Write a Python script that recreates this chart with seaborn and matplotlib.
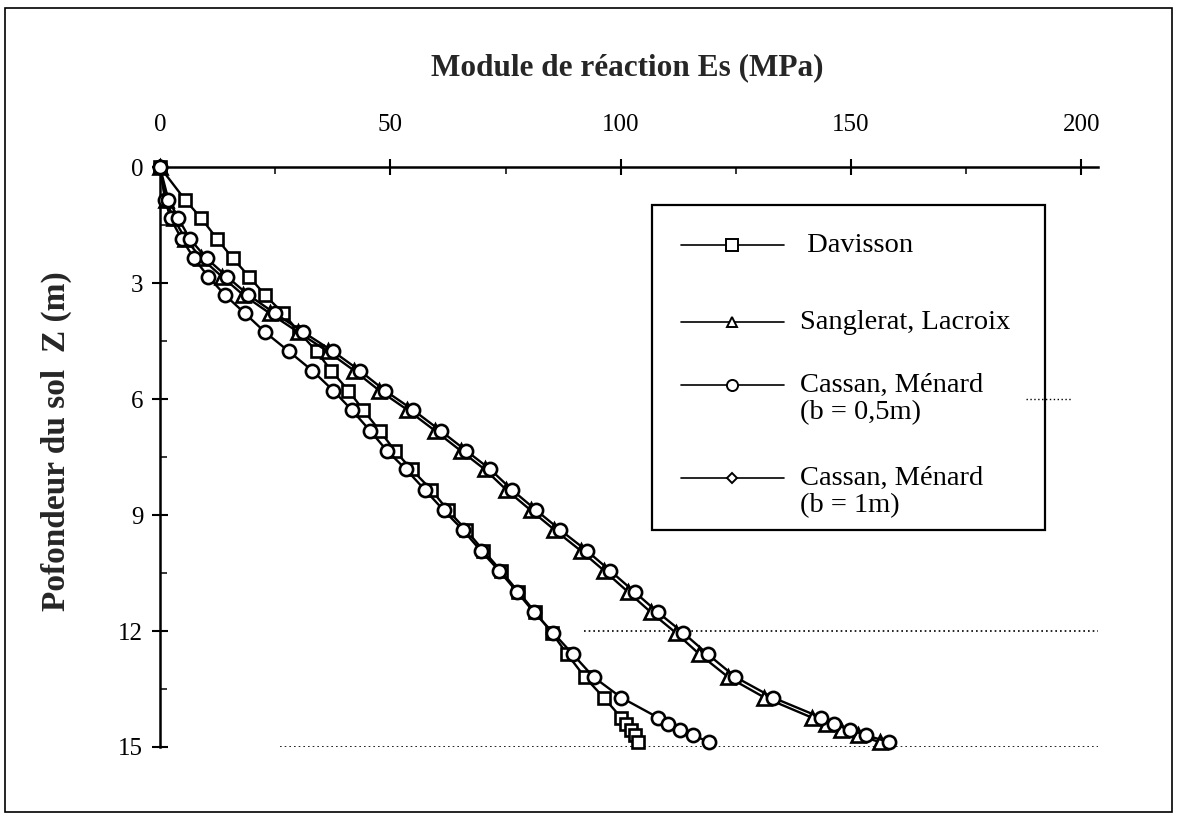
import matplotlib
matplotlib.use("Agg")
import matplotlib.pyplot as plt
from matplotlib.lines import Line2D
from matplotlib.patches import Rectangle
from matplotlib.ticker import MultipleLocator
import seaborn as sns

# Depth below ground (m), common to all methods
depth = [0, 0.84, 1.33, 1.86, 2.36, 2.84, 3.31, 3.78, 4.27, 4.77, 5.27, 5.78,
         6.28, 6.82, 7.34, 7.82, 8.35, 8.88, 9.38, 9.92, 10.44, 10.99, 11.52,
         12.04, 12.60, 13.19, 13.72, 14.24, 14.41, 14.55, 14.70, 14.87]

# Reaction modulus Es (MPa) for each method
es_davisson = [0, 5.4, 9.0, 12.4, 15.8, 19.4, 22.8, 26.7, 30.2, 34.0, 37.2, 40.9,
               44.1, 47.7, 51.0, 54.6, 58.9, 62.5, 66.4, 70.2, 74.0, 77.8, 81.5,
               85.0, 88.4, 92.2, 96.3, 100.1, 101.2, 102.3, 103.0, 103.8]
es_sanglerat = [0, 1.2, 3.0, 5.5, 9.0, 13.5, 18.1, 23.8, 30.0, 36.4, 42.2, 47.6,
                53.7, 59.7, 65.3, 70.5, 75.2, 80.5, 85.6, 91.3, 96.4, 101.6, 106.6,
                111.9, 117.1, 123.3, 131.2, 141.5, 144.6, 147.9, 151.5, 156.2]
es_cassan_05 = [0, 1.1, 2.3, 4.7, 7.4, 10.5, 14.1, 18.4, 22.8, 28.0, 33.1, 37.6,
                41.6, 45.6, 49.3, 53.4, 57.5, 61.6, 65.7, 69.6, 73.6, 77.5, 81.2,
                85.3, 89.6, 94.1, 100.1, 108.1, 110.3, 112.8, 115.7, 119.2]
es_cassan_1 = [0, 1.8, 4.0, 6.5, 10.1, 14.6, 19.2, 24.9, 31.1, 37.6, 43.4, 48.8,
               54.9, 60.9, 66.5, 71.7, 76.4, 81.7, 86.8, 92.6, 97.7, 103.0, 108.1,
               113.5, 118.9, 124.9, 133.0, 143.5, 146.4, 149.7, 153.3, 158.2]

labels = [" Davisson", "Sanglerat, Lacroix", "Cassan, Ménard\n(b = 0,5m)",
          "Cassan, Ménard\n(b = 1m)"]
x_ticks = [0, 50, 100, 150, 200]
y_ticks = [0, 3, 6, 9, 12, 15]

sns.set_theme(style="white")
plt.rcParams["font.family"] = ["Liberation Serif", "DejaVu Serif"]

fig = plt.figure(figsize=(11.78, 8.18), dpi=100)
ax = fig.add_axes([0.1358, 0.0868, 0.7963, 0.709])

# series, marker, marker size (pt)
styles = [
    (es_davisson, "s", 9.0),
    (es_sanglerat, "^", 9.5),
    (es_cassan_05, "o", 9.5),
    (es_cassan_1, "o", 9.5),
]
for values, mk, ms in styles:
    sns.lineplot(x=values, y=depth, ax=ax, sort=False, estimator=None,
                 color="black", linewidth=1.7, marker=mk, markersize=ms,
                 markerfacecolor="white", markeredgecolor="black",
                 markeredgewidth=1.9, clip_on=False, zorder=3)

# faint dotted reference lines
dots = (0, (1, 1.8))
ax.plot([92, 203.6], [12, 12], color="black", lw=1.2, ls=dots, zorder=1)
ax.plot([26, 203.6], [15, 15], color="black", lw=1.2, ls=dots, zorder=1)
ax.plot([188, 198], [6, 6], color="black", lw=1.0, ls=dots, zorder=1)

ax.set_xlim(0, 203.6)
ax.set_ylim(15, 0)
ax.xaxis.tick_top()
ax.xaxis.set_label_position("top")
ax.set_xticks(x_ticks)
ax.set_yticks(y_ticks)
ax.xaxis.set_minor_locator(MultipleLocator(25))
ax.yaxis.set_minor_locator(MultipleLocator(1.5))
ax.tick_params(axis="x", which="major", direction="inout", length=12, width=1.5,
               pad=16, labelsize=18, colors="black", top=True, bottom=False)
ax.tick_params(axis="x", which="minor", direction="in", length=5, width=1.3,
               top=True, bottom=False)
ax.tick_params(axis="y", which="major", direction="inout", length=12, width=1.5,
               pad=6, labelsize=18, colors="black", left=True)
ax.tick_params(axis="y", which="minor", direction="in", length=5, width=1.3,
               left=True)

for side in ["right", "bottom"]:
    ax.spines[side].set_visible(False)
for side in ["top", "left"]:
    ax.spines[side].set_color("black")
    ax.spines[side].set_linewidth(1.8)

ax.set_xlabel("Module de réaction Es (MPa)", fontsize=22.5, fontweight="bold")
ax.xaxis.set_label_coords(0.498, 1.158)
ax.set_ylabel("Pofondeur du sol  Z (m)", fontsize=24, fontweight="bold")
ax.yaxis.set_label_coords(-0.094, 0.528)
ax.grid(False)

# legend box drawn in axes fractions
tr = ax.transAxes
ax.add_patch(Rectangle((0.5245, 0.374), 0.419, 0.5605, transform=tr, fill=False,
                       edgecolor="black", lw=1.6, zorder=4))
entries = [
    ("s", 8.0, 0.8655, [labels[0]]),
    ("^", 7.5, 0.7328, [labels[1]]),
    ("o", 8.0, 0.6241, labels[2].split("\n")),
    ("D", 5.5, 0.4638, labels[3].split("\n")),
]
for mk, ms, yy, lines in entries:
    ax.add_line(Line2D([0.555, 0.665], [yy, yy], transform=tr, color="black",
                       lw=1.2, zorder=5))
    ax.add_line(Line2D([0.61], [yy], transform=tr, marker=mk, markersize=ms,
                       markerfacecolor="white", markeredgecolor="black",
                       markeredgewidth=1.4, ls="none", zorder=6))
    for i, txt in enumerate(lines):
        ax.text(0.682, yy - i * 0.0482, txt, transform=tr, fontsize=20.5,
                va="center", ha="left", color="black", zorder=6)

# outer frame of the figure
fig.patches.append(Rectangle((5 / 1178, 1 - 812 / 818), 1167 / 1178, 804 / 818,
                             transform=fig.transFigure, fill=False,
                             edgecolor="black", lw=1.2))

fig.savefig("out.png", dpi=100, facecolor="white")
